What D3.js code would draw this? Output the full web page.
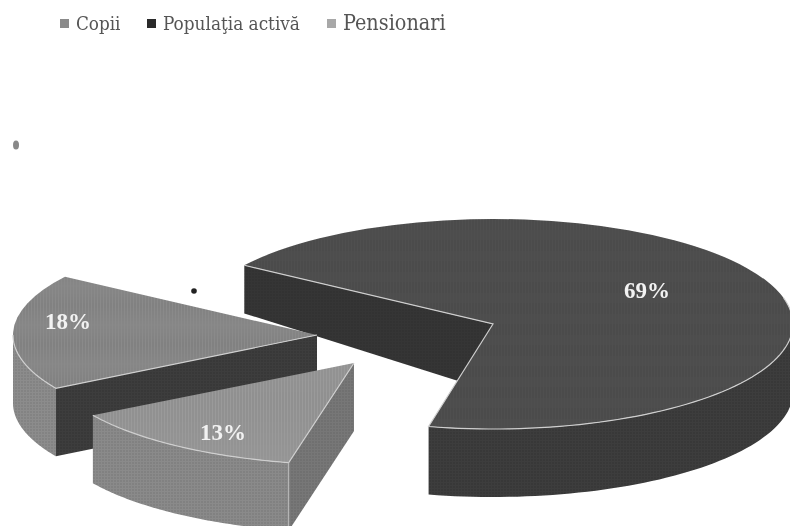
<!DOCTYPE html>
<html>
<head>
<meta charset="utf-8">
<script src="https://cdn.jsdelivr.net/npm/d3@7"></script>
<style>
  html, body { margin: 0; padding: 0; background: #fff; overflow: hidden; }
</style>
</head>
<body>
<div id="chart"></div>
<script>
const categories = ["Copii", "Populaţia activă", "Pensionari"];
const shares = [18, 69, 13];
const shareLabels = ["18%", "69%", "13%"];

const width = 790, height = 526;
const startDeg = -120.8;

// where each slice was pulled out to, its size, and the colours of its faces
const centers = [[317, 335], [493, 324], [354, 363]];
const radiiX = [304, 300, 304];
const radiiY = [104, 105, 102];
const topColors = ["#8a8a8a", "#505050", "#9a9a9a"];
const rimColors = ["#8c8c8c", "#3c3c3c", "#8a8a8a"];
const cutColors = ["#3c3c3c", "#363636", "#777777"];
const legendColors = ["#8a8a8a", "#2b2b2b", "#a8a8a8"];
const legendX = [60, 147, 327];
const legendTextX = [76, 163, 343];
const legendFont = [18.7, 18.8, 21.4];
const labelPos = [[68, 329], [647, 298], [223, 440]];

const svg = d3.select("#chart").append("svg")
    .attr("width", width)
    .attr("height", height);

const defs = svg.append("defs");

defs.append("filter").attr("id", "soft")
    .append("feGaussianBlur").attr("stdDeviation", 0.6);

// scan texture
const pattern = defs.append("pattern")
    .attr("id", "halftone")
    .attr("width", 3).attr("height", 3)
    .attr("patternUnits", "userSpaceOnUse");
pattern.append("circle")
    .attr("cx", 1).attr("cy", 1).attr("r", 0.8)
    .attr("fill", "#000").attr("opacity", 0.14);

const pie = d3.pie()
    .sort(null)
    .startAngle(startDeg * Math.PI / 180)
    .endAngle((startDeg + 360) * Math.PI / 180);
const arcs = pie(shares);

// back of the pie looks thinner, the picture has some perspective
const depth = d3.scaleLinear().domain([-59, 0]).range([48, 68]).clamp(true);

const polyLine = d3.line().curve(d3.curveLinear);

function point(a, i) {
    const c = centers[i];
    return [c[0] + radiiX[i] * Math.sin(a), c[1] - radiiY[i] * Math.cos(a)];
}

function sample(a0, a1) {
    return d3.range(0, 61).map(k => a0 + (a1 - a0) * k / 60);
}

function rimPath(a0, a1, i) {
    const angles = sample(a0, a1);
    const upper = angles.map(a => point(a, i));
    const lower = upper.map(p => [p[0], p[1] + depth(p[1] - centers[i][1])]).reverse();
    return polyLine(upper.concat(lower)) + "Z";
}

function cutPath(a, i) {
    const c = centers[i];
    const p = point(a, i);
    return polyLine([p, c, [c[0], c[1] + depth(0)], [p[0], p[1] + depth(p[1] - c[1])]]) + "Z";
}

function paint(g, d, fill) {
    g.append("path").attr("d", d).attr("fill", fill);
    g.append("path").attr("d", d).attr("fill", "url(#halftone)");
}

const chart = svg.append("g").attr("filter", "url(#soft)");

// big slice sits behind the other two
[1, 0, 2].forEach(i => {
    const s = arcs[i], c = centers[i];
    const g = chart.append("g");
    const a0 = s.startAngle, a1 = s.endAngle;

    // walls that face the viewer
    if (i === 0) {
        paint(g, rimPath(a0, -Math.PI / 2, i), rimColors[i]);
    } else if (i === 1) {
        paint(g, rimPath(Math.PI / 2, a1, i), rimColors[i]);
    } else {
        paint(g, rimPath(a0, a1, i), rimColors[i]);
    }
    paint(g, cutPath(a0, i), cutColors[i]);

    // top face
    const arc = d3.arc().innerRadius(0).outerRadius(radiiX[i]);
    const top = g.append("g")
        .attr("transform", `translate(${c[0]},${c[1]}) scale(1,${radiiY[i] / radiiX[i]})`);
    paint(top, arc(s), topColors[i]);

    // pale edge along the front of the top face
    let edge;
    if (i === 0) {
        edge = [...sample(-Math.PI / 2, a0).map(a => point(a, i)), c];
    } else if (i === 1) {
        edge = [point(a0, i), c, ...sample(a1, Math.PI / 2 - 0.25).map(a => point(a, i))];
    } else {
        edge = [...sample(a1, a0).map(a => point(a, i)), c];
    }
    g.append("path")
        .attr("d", polyLine(edge))
        .attr("fill", "none")
        .attr("stroke", "#cfcfcf")
        .attr("stroke-width", 1.2);

    // vertical seam on the near corner of the small slice
    if (i === 2) {
        const p = point(a0, i);
        g.append("line")
            .attr("x1", p[0]).attr("y1", p[1])
            .attr("x2", p[0]).attr("y2", p[1] + depth(p[1] - c[1]))
            .attr("stroke", "#bdbdbd");
    }
});

// percentage labels
svg.append("g")
    .attr("filter", "url(#soft)")
    .selectAll("text")
    .data(shareLabels)
    .enter().append("text")
    .attr("x", (d, i) => labelPos[i][0])
    .attr("y", (d, i) => labelPos[i][1])
    .attr("text-anchor", "middle")
    .attr("font-family", "'Liberation Serif', serif")
    .attr("font-weight", "bold")
    .attr("font-size", 23)
    .attr("fill", "#f2f2f2")
    .text(d => d);

// legend
const legend = svg.append("g").attr("filter", "url(#soft)");
legend.selectAll("rect")
    .data(categories)
    .enter().append("rect")
    .attr("x", (d, i) => legendX[i])
    .attr("y", 19)
    .attr("width", 9)
    .attr("height", 9)
    .attr("fill", (d, i) => legendColors[i]);
legend.selectAll("text")
    .data(categories)
    .enter().append("text")
    .attr("x", (d, i) => legendTextX[i])
    .attr("y", 30)
    .attr("font-family", "'DejaVu Serif Condensed', 'DejaVu Serif', serif")
    .attr("font-stretch", "condensed")
    .attr("font-size", (d, i) => legendFont[i])
    .attr("fill", "#555")
    .text(d => d);

// specks from the scan
svg.append("circle").attr("cx", 194).attr("cy", 291).attr("r", 2.8).attr("fill", "#222").attr("filter", "url(#soft)");
svg.append("ellipse").attr("cx", 16).attr("cy", 145).attr("rx", 3).attr("ry", 4.5).attr("fill", "#888").attr("filter", "url(#soft)");
</script>
</body>
</html>
